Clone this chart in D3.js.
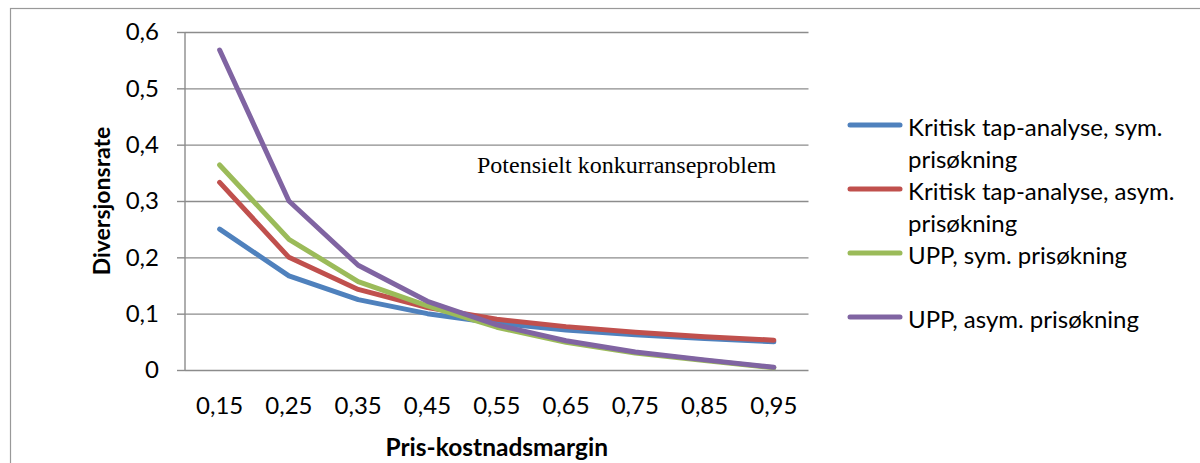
<!DOCTYPE html>
<html>
<head>
<meta charset="utf-8">
<script src="https://cdn.jsdelivr.net/npm/d3@7"></script>
<style>
  html, body { margin: 0; padding: 0; background: #fff; }
  svg { display: block; }
  text { font-family: Lato, "Open Sans", sans-serif; fill: #000; }
</style>
</head>
<body>
<svg id="chart" width="1200" height="463"></svg>
<script>
// Price-cost margin categories on the x axis
const margins = ["0,15", "0,25", "0,35", "0,45", "0,55", "0,65", "0,75", "0,85", "0,95"];

// Diversion ratio per method
const kritiskSym  = [0.250, 0.167, 0.125, 0.100, 0.083, 0.071, 0.0625, 0.056, 0.050];
const kritiskAsym = [0.333, 0.200, 0.143, 0.111, 0.090, 0.077, 0.067, 0.059, 0.053];
const uppSym      = [0.364, 0.232, 0.157, 0.114, 0.076, 0.049, 0.030, 0.017, 0.004];
const uppAsym     = [0.568, 0.300, 0.186, 0.122, 0.080, 0.052, 0.032, 0.018, 0.005];

const seriesNames = [
  "Kritisk tap-analyse, sym. prisøkning",
  "Kritisk tap-analyse, asym. prisøkning",
  "UPP, sym. prisøkning",
  "UPP, asym. prisøkning"
];
const seriesColors = ["#4f81bd", "#c0504d", "#9bbb59", "#8064a2"];

const yTicks = [0, 0.1, 0.2, 0.3, 0.4, 0.5, 0.6];

const xTitle = "Pris-kostnadsmargin";
const yTitle = "Diversjonsrate";
const note = "Potensielt konkurranseproblem";

const series = [kritiskSym, kritiskAsym, uppSym, uppAsym].map((values, i) => ({
  name: seriesNames[i],
  color: seriesColors[i],
  values
}));

const svg = d3.select("#chart");

// outer chart frame
svg.append("rect")
  .attr("x", 10.5).attr("y", 8.5)
  .attr("width", 1300).attr("height", 600)
  .attr("fill", "none").attr("stroke", "#999").attr("stroke-width", 1.2);

const plot = { left: 185, right: 808.5, top: 32, bottom: 370 };

const x = d3.scaleBand().domain(margins).range([plot.left, plot.right]).padding(0);
const y = d3.scaleLinear().domain([0, 0.6]).range([plot.bottom, plot.top]);

const locale = d3.formatLocale({ decimal: ",", thousands: " ", grouping: [3], currency: ["", ""] });
const fmt = locale.format("~g");

// horizontal gridlines
const grid = svg.append("g")
  .attr("transform", `translate(${plot.left},0)`)
  .call(d3.axisLeft(y).tickValues(yTicks).tickSize(-(plot.right - plot.left)).tickFormat(""));
grid.select(".domain").remove();
grid.selectAll("line").attr("stroke", "#8c8c8c").attr("stroke-width", 1.4);

// y axis with tick marks and labels
const yAxis = svg.append("g")
  .attr("transform", `translate(${plot.left},0)`)
  .call(d3.axisLeft(y).tickValues(yTicks).tickSize(8).tickPadding(18).tickFormat(fmt));
yAxis.select(".domain").attr("stroke", "#8c8c8c").attr("stroke-width", 1.4)
  .attr("d", `M0,${plot.top}V${plot.bottom}`);
yAxis.selectAll("line").attr("stroke", "#8c8c8c").attr("stroke-width", 1.4);
yAxis.selectAll("text").style("font-size", "24px").attr("fill", "#000");

// x axis labels
const xAxis = svg.append("g")
  .attr("transform", `translate(0,${plot.bottom})`)
  .call(d3.axisBottom(x).tickSize(0).tickPadding(27));
xAxis.select(".domain").remove();
xAxis.selectAll("text").style("font-size", "24px").attr("fill", "#000");

// series lines
const line = d3.line()
  .x((d, i) => x(margins[i]) + x.bandwidth() / 2)
  .y(d => y(d));

svg.append("g").selectAll("path")
  .data(series)
  .join("path")
  .attr("d", d => line(d.values))
  .attr("fill", "none")
  .attr("stroke", d => d.color)
  .attr("stroke-width", 5)
  .attr("stroke-linejoin", "round")
  .attr("stroke-linecap", "round");

// axis titles
svg.append("text")
  .attr("x", (plot.left + plot.right) / 2)
  .attr("y", 455.5)
  .attr("text-anchor", "middle")
  .style("font-size", "24.5px").style("font-weight", "bold")
  .text(xTitle);

svg.append("text")
  .attr("transform", `translate(109.5,${(plot.top + plot.bottom) / 2}) rotate(-90)`)
  .attr("text-anchor", "middle")
  .style("font-size", "23px").style("font-weight", "bold")
  .text(yTitle);

// annotation inside the plot
svg.append("text")
  .attr("x", 477).attr("y", 173)
  .style("font-family", "'Liberation Serif', 'Times New Roman', serif")
  .style("font-size", "24px")
  .text(note);

// legend
const legendRowY = [125, 189, 253, 317];
const legend = svg.append("g");
const maxTextWidth = 285;

series.forEach((s, i) => {
  const g = legend.append("g").attr("transform", `translate(0,${legendRowY[i]})`);
  g.append("line")
    .attr("x1", 850).attr("x2", 900)
    .attr("y1", 0).attr("y2", 0)
    .attr("stroke", s.color).attr("stroke-width", 5)
    .attr("stroke-linecap", "round");
  const t = g.append("text")
    .attr("x", 908).attr("y", 11)
    .style("font-size", "24px");
  // wrap the label onto extra lines when it is too wide
  const words = s.name.split(" ");
  let lineWords = [];
  let tspan = t.append("tspan").attr("x", 908).attr("dy", 0);
  words.forEach(w => {
    lineWords.push(w);
    tspan.text(lineWords.join(" "));
    if (tspan.node().getComputedTextLength() > maxTextWidth && lineWords.length > 1) {
      lineWords.pop();
      tspan.text(lineWords.join(" "));
      lineWords = [w];
      tspan = t.append("tspan").attr("x", 908).attr("dy", 32).text(w);
    }
  });
});
</script>
</body>
</html>
